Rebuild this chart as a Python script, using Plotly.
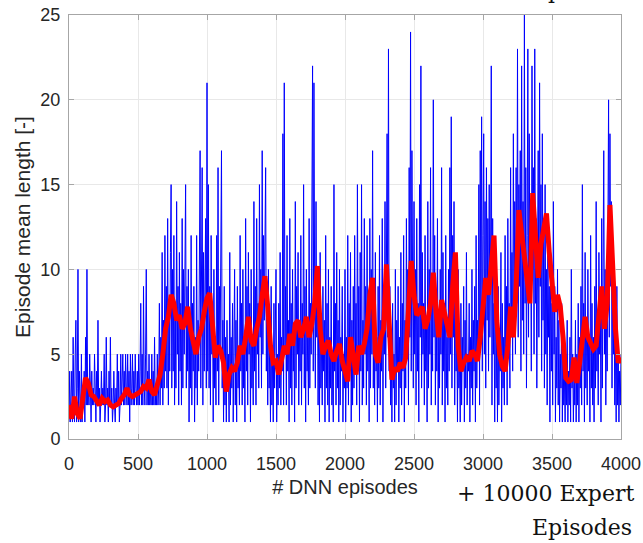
import plotly.graph_objects as go

# Raw episode lengths, read every 5th DNN episode
raw_step = 5
raw_values = [
    # 0 - 245
    1, 4, 1, 2, 4, 1, 6, 2, 1, 5, 7, 1, 3, 10, 1, 4, 2, 1, 5, 1, 3, 2, 4, 1, 6,
    2, 10, 2, 3, 2, 5, 2, 1, 4, 2, 3, 2, 5, 2, 1, 4, 2, 7, 2, 3, 1, 2, 4, 2, 3,
    # 250 - 495
    2, 5, 1, 2, 6, 2, 3, 1, 4, 2, 6, 2, 3, 1, 2, 4, 2, 1, 3, 2, 5, 2, 4, 1, 2,
    5, 2, 3, 5, 2, 4, 2, 5, 3, 2, 5, 2, 4, 1, 5, 2, 3, 5, 2, 4, 2, 5, 3, 2, 4,
    # 500 - 745
    2, 5, 2, 4, 8, 2, 5, 2, 9, 3, 2, 5, 10, 2, 4, 2, 5, 2, 3, 2, 5, 2, 4, 2, 6,
    2, 3, 2, 5, 2, 3, 8, 2, 6, 3, 11, 2, 7, 3, 12, 4, 9, 3, 13, 2, 8, 4, 11, 15, 3,
    # 750 - 995
    10, 4, 12, 2, 7, 3, 14, 5, 9, 2, 11, 4, 8, 2, 13, 3, 10, 5, 12, 15, 3, 9, 4, 10, 1,
    7, 3, 12, 2, 8, 4, 9, 1, 6, 3, 12, 2, 7, 4, 13, 17, 3, 8, 16, 2, 11, 4, 9, 13, 3,
    # 1000 - 1245
    21, 4, 15, 3, 9, 2, 12, 5, 8, 1, 10, 3, 6, 2, 12, 4, 16, 2, 9, 5, 11, 17, 3, 7, 1,
    9, 2, 6, 1, 7, 3, 5, 1, 11, 2, 6, 3, 8, 1, 5, 10, 2, 7, 1, 9, 3, 5, 2, 12, 4,
    # 1250 - 1495
    8, 2, 10, 3, 6, 1, 13, 4, 9, 2, 11, 5, 8, 1, 10, 3, 6, 2, 14, 4, 9, 2, 13, 5, 8,
    3, 15, 6, 10, 3, 17, 5, 12, 7, 13, 16, 4, 9, 2, 10, 3, 6, 1, 9, 2, 5, 1, 8, 3, 6,
    # 1500 - 1745
    10, 1, 5, 2, 8, 3, 11, 2, 6, 4, 18, 2, 21, 5, 9, 2, 12, 4, 7, 1, 13, 3, 8, 2, 10,
    4, 6, 1, 14, 3, 9, 5, 11, 2, 7, 4, 12, 2, 8, 5, 15, 3, 9, 1, 10, 4, 6, 2, 13, 3,
    # 1750 - 1995
    8, 5, 11, 22, 4, 21, 9, 3, 14, 6, 10, 2, 8, 1, 11, 3, 6, 2, 9, 4, 7, 1, 12, 3, 8,
    2, 10, 1, 6, 3, 9, 2, 5, 1, 15, 4, 8, 2, 11, 3, 7, 1, 10, 2, 6, 4, 9, 1, 5, 3,
    # 2000 - 2245
    10, 1, 6, 3, 12, 2, 8, 4, 11, 1, 7, 2, 9, 3, 12, 5, 8, 2, 15, 4, 9, 1, 11, 4, 15,
    2, 7, 3, 13, 5, 9, 2, 12, 4, 8, 1, 13, 3, 10, 5, 17, 3, 8, 2, 11, 4, 6, 1, 9, 3,
    # 2250 - 2495
    12, 2, 7, 4, 13, 1, 9, 5, 14, 3, 10, 18, 6, 23, 4, 9, 2, 6, 1, 8, 3, 5, 1, 10, 2,
    7, 4, 9, 1, 6, 3, 11, 2, 8, 4, 12, 1, 7, 3, 13, 5, 10, 2, 16, 6, 24, 4, 17, 9, 3,
    # 2500 - 2745
    14, 5, 10, 2, 13, 4, 8, 1, 15, 6, 22, 3, 11, 5, 8, 2, 12, 4, 7, 1, 14, 3, 10, 5, 16,
    2, 9, 4, 20, 6, 12, 2, 8, 4, 13, 1, 7, 3, 10, 5, 16, 2, 11, 4, 8, 1, 12, 3, 6, 2,
    # 2750 - 2995
    10, 4, 16, 5, 19, 3, 12, 6, 14, 2, 9, 4, 7, 1, 10, 3, 5, 1, 8, 2, 6, 4, 9, 1, 7,
    3, 11, 2, 5, 4, 8, 1, 6, 3, 10, 2, 7, 4, 9, 1, 12, 3, 7, 5, 15, 2, 17, 6, 19, 4,
    # 3000 - 3245
    12, 18, 5, 14, 3, 16, 7, 13, 4, 15, 6, 11, 22, 2, 13, 5, 8, 1, 10, 3, 7, 1, 9, 2, 6,
    4, 11, 1, 8, 3, 6, 2, 12, 4, 9, 2, 13, 5, 8, 3, 16, 6, 11, 4, 18, 7, 14, 5, 16, 8,
    # 3250 - 3495
    23, 6, 15, 9, 17, 4, 22, 7, 14, 5, 25, 8, 16, 3, 12, 23, 6, 18, 9, 14, 4, 22, 10, 16, 5,
    23, 8, 13, 3, 11, 17, 6, 21, 9, 15, 4, 18, 7, 12, 3, 15, 5, 10, 2, 12, 6, 9, 1, 11, 4,
    # 3500 - 3745
    8, 2, 14, 5, 9, 1, 6, 3, 10, 2, 7, 1, 5, 3, 8, 1, 6, 2, 4, 1, 5, 2, 7, 1, 4,
    2, 6, 1, 10, 3, 5, 1, 4, 2, 7, 1, 5, 2, 8, 1, 6, 3, 9, 2, 15, 4, 8, 1, 11, 3,
    # 3750 - 4000
    7, 2, 10, 4, 6, 1, 12, 3, 8, 2, 6, 1, 9, 3, 14, 4, 7, 2, 11, 5, 8, 1, 13, 3, 9,
    17, 5, 10, 2, 8, 4, 12, 20, 6, 18, 9, 14, 3, 11, 5, 8, 2, 6, 1, 9, 2, 5, 1, 4, 2,
    5,
]
raw_episodes = [i * raw_step for i in range(len(raw_values))]

# Moving average (read every 20 episodes)
avg_step = 20
avg_values = [
    2.0, 1.2, 2.5, 1.5, 1.2, 2.5, 3.6, 3.3, 2.6, 2.5,   # 0-180
    2.3, 2.0, 2.4, 2.2, 2.3, 2.0, 1.9, 2.0, 2.1, 2.4,   # 200-380
    2.6, 3.0, 2.6, 2.5, 2.6, 2.7, 2.8, 3.1, 3.0, 3.5,   # 400-580
    2.8, 2.6, 3.2, 3.8, 5.0, 6.5, 7.2, 8.5, 8.0, 7.0,   # 600-780
    7.3, 6.5, 6.8, 7.8, 6.5, 5.8, 5.0, 6.0, 6.5, 7.5,   # 800-980
    8.3, 8.6, 6.5, 4.8, 5.5, 5.2, 4.5, 2.8, 3.8, 4.2,   # 1000-1180
    4.0, 4.5, 5.5, 5.0, 6.0, 7.2, 5.8, 5.5, 6.5, 7.2,   # 1200-1380
    8.5, 9.6, 7.8, 5.5, 4.5, 4.6, 3.8, 4.5, 5.5, 5.0,   # 1400-1580
    6.2, 5.5, 6.8, 7.0, 6.0, 6.5, 7.2, 6.0, 6.8, 8.0,   # 1600-1780
    10.2, 6.5, 5.0, 5.5, 5.8, 5.0, 4.6, 5.2, 5.6, 4.6,  # 1800-1980
    4.0, 3.4, 6.0, 5.0, 3.8, 5.5, 5.0, 5.6, 6.5, 8.5,   # 2000-2180
    9.5, 5.0, 4.5, 6.0, 6.5, 10.3, 6.0, 3.5, 4.2, 4.0,  # 2200-2380
    4.5, 4.2, 4.8, 7.5, 10.5, 8.5, 7.3, 7.5, 7.8, 6.5,  # 2400-2580
    7.0, 8.0, 9.8, 7.5, 6.0, 8.2, 7.5, 6.5, 6.0, 9.0,   # 2600-2780
    11.0, 5.5, 4.0, 4.5, 4.8, 4.6, 5.2, 5.0, 4.6, 6.0,  # 2800-2980
    7.5, 9.5, 8.5, 10.5, 12.0, 7.0, 5.0, 4.3, 4.0, 5.5, # 3000-3180
    7.8, 6.0, 9.0, 13.5, 12.0, 10.8, 9.5, 8.0, 14.5, 11.5,  # 3200-3380
    9.5, 11.5, 12.5, 13.3, 11.0, 9.0, 7.5, 8.5, 7.8, 6.0,   # 3400-3580
    3.6, 3.4, 3.5, 4.8, 3.3, 4.5, 6.2, 7.2, 6.0, 5.6,   # 3600-3780
    5.3, 5.5, 7.5, 9.0, 6.5, 8.0, 13.8, 9.5, 6.5, 4.5,  # 3800-3980
    4.8,                                                # 4000
]
avg_episodes = [i * avg_step for i in range(len(avg_values))]

x_ticks = [0, 500, 1000, 1500, 2000, 2500, 3000, 3500, 4000]
y_ticks = [0, 5, 10, 15, 20, 25]

fig = go.Figure()
fig.add_trace(go.Scatter(
    x=raw_episodes, y=raw_values, mode="lines",
    line=dict(color="rgb(0,0,255)", width=1),
    showlegend=False, hoverinfo="skip",
))
fig.add_trace(go.Scatter(
    x=avg_episodes, y=avg_values, mode="lines",
    line=dict(color="rgb(255,0,0)", width=5),
    showlegend=False, hoverinfo="skip",
))

axis_common = dict(
    showline=True, linecolor="#a6a6a6", linewidth=1, mirror="allticks",
    ticks="inside", ticklen=5, tickcolor="#a6a6a6",
    showgrid=True, gridcolor="#e8e8e8", gridwidth=1,
    zeroline=False, automargin=False,
    tickfont=dict(family="Liberation Sans, Arial", size=18, color="#262626"),
)
title_font = dict(family="Liberation Sans, Arial", size=20, color="#262626")

fig.update_xaxes(
    range=[0, 4000], tickvals=x_ticks, ticktext=[str(v) for v in x_ticks],
    title=dict(text="# DNN episodes", standoff=7, font=title_font),
    ticklabelstandoff=8,
    **axis_common,
)
fig.update_yaxes(
    range=[0, 25], tickvals=y_ticks, ticktext=[str(v) for v in y_ticks],
    title=dict(text="Episode mean length [-]",
               standoff=4, font=dict(family="Liberation Sans, Arial", size=21, color="#262626")),
    ticklabelstandoff=4,
    **axis_common,
)

# plot area: x 69..621, y 15..439
def px_x(p):
    return (p - 69) / 552

def px_y(p):
    return (439 - p) / 424

serif = dict(family="DejaVu Serif", size=22, color="#111111")
fig.add_annotation(
    text="+ 10000 Expert", xref="paper", yref="paper",
    x=px_x(636), y=px_y(508), xanchor="right", yanchor="bottom",
    showarrow=False, font=serif,
)
fig.add_annotation(
    text="Episodes", xref="paper", yref="paper",
    x=px_x(634), y=px_y(542), xanchor="right", yanchor="bottom",
    showarrow=False, font=serif,
)
fig.add_annotation(
    text="Episodes", xref="paper", yref="paper",
    x=px_x(634), y=px_y(5), xanchor="right", yanchor="bottom",
    showarrow=False, font=serif,
)

fig.update_layout(
    width=643, height=543,
    margin=dict(l=69, r=22, t=15, b=104),
    paper_bgcolor="white", plot_bgcolor="white",
)

fig.write_html("out.html")
